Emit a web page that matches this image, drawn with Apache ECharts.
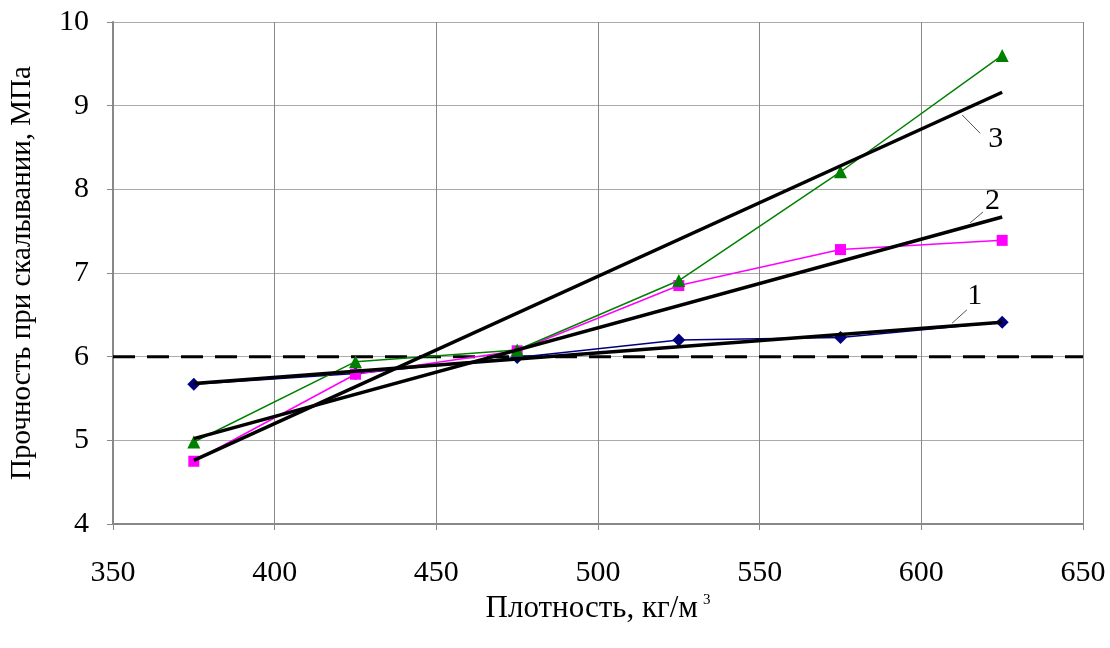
<!DOCTYPE html>
<html>
<head>
<meta charset="utf-8">
<script src="https://cdn.jsdelivr.net/npm/echarts@6/dist/echarts.min.js"></script>
<style>
html, body { margin: 0; padding: 0; background: #fff; }
#main { width: 1110px; height: 648px; }
</style>
</head>
<body>
<div id="main"></div>
<script>
var densities = [375, 425, 475, 525, 575, 625];
var strength1 = [5.67, 5.80, 5.99, 6.20, 6.23, 6.41];
var strength2 = [4.75, 5.79, 6.07, 6.85, 7.28, 7.39];
var strength3 = [4.98, 5.94, 6.08, 6.91, 8.21, 9.60];
var trendX = [375, 625];
var trend1 = [5.68, 6.41];
var trend2 = [5.02, 7.67];
var trend3 = [4.76, 9.16];
var limitValue = 6;
var xTicks = [350, 400, 450, 500, 550, 600, 650];
var yTicks = [4, 5, 6, 7, 8, 9, 10];
// curve labels: [text, leader start, leader end, text position]
var curveLabels = [
    ['1', [609.5, 6.40], [614.1, 6.56], [616.5, 6.72]],
    ['2', [615.1, 7.60], [619.1, 7.73], [622.0, 7.86]],
    ['3', [612.6, 8.89], [618.2, 8.67], [623.0, 8.60]]
];

function pairs(xs, ys)
{
    return xs.map(function(x, i) { return [x, ys[i]]; });
}

var fontFamily = '"Liberation Serif", "DejaVu Serif", serif';
var labelStyle = {color: '#000', fontSize: 30, fontFamily: fontFamily};

var chart = echarts.init(document.getElementById('main'));

var dataSeries = [
    {data: strength1, color: '#000080', symbol: 'diamond', size: 13},
    {data: strength2, color: '#ff00ff', symbol: 'rect', size: 11},
    {data: strength3, color: '#008000', symbol: 'triangle', size: 13}
].map(function(s)
{
    return {
        type: 'line',
        data: pairs(densities, s.data),
        symbol: s.symbol,
        symbolSize: s.size,
        showAllSymbol: true,
        itemStyle: {color: s.color},
        lineStyle: {color: s.color, width: 1.5},
        z: 3,
        animation: false
    };
});

var trendSeries = [trend1, trend2, trend3].map(function(t)
{
    return {
        type: 'line',
        data: pairs(trendX, t),
        symbol: 'none',
        lineStyle: {color: '#000', width: 3.5},
        z: 4,
        animation: false
    };
});

var leaderSeries = {
    type: 'line',
    data: [],
    symbol: 'none',
    animation: false,
    markLine: {
        silent: true,
        symbol: 'none',
        label: {show: false},
        lineStyle: {color: '#555', width: 1, type: 'solid'},
        data: curveLabels.map(function(c)
        {
            return [{coord: c[1]}, {coord: c[2]}];
        })
    },
    markPoint: {
        silent: true,
        symbol: 'circle',
        symbolSize: 1,
        itemStyle: {color: 'rgba(0,0,0,0)'},
        label: {show: true, position: 'inside', color: '#000', fontSize: 30, fontFamily: fontFamily},
        data: curveLabels.map(function(c)
        {
            return {coord: c[3], value: c[0]};
        })
    }
};

var limitSeries = {
    type: 'line',
    data: pairs([xTicks[0], xTicks[xTicks.length - 1]], [limitValue, limitValue]),
    symbol: 'none',
    lineStyle: {color: '#000', width: 3, type: [22, 12]},
    z: 2,
    animation: false
};

var option = {
    backgroundColor: '#fff',
    grid: {left: 113, right: 27, top: 22, bottom: 124},
    xAxis: {
        type: 'value',
        min: xTicks[0],
        max: xTicks[xTicks.length - 1],
        interval: 50,
        name: '{a|Плотность, кг/м}{s|3}',
        nameLocation: 'middle',
        nameGap: 66,
        nameTextStyle: {
            rich: {
                a: {fontSize: 31, fontFamily: fontFamily, color: '#000'},
                s: {fontSize: 15, fontFamily: fontFamily, color: '#000', verticalAlign: 'top', padding: [0, 0, 16, 5]}
            }
        },
        axisLine: {show: true, lineStyle: {color: '#888', width: 2}},
        axisTick: {show: true, inside: false, length: 6, lineStyle: {color: '#888'}},
        axisLabel: Object.assign({margin: 34}, labelStyle),
        splitLine: {show: true, lineStyle: {color: '#888', width: 1}}
    },
    yAxis: {
        type: 'value',
        min: yTicks[0],
        max: yTicks[yTicks.length - 1],
        interval: 1,
        name: 'Прочность при скалывании, МПа',
        nameLocation: 'middle',
        nameGap: 76,
        nameTextStyle: {fontSize: 29, fontFamily: fontFamily, color: '#000'},
        axisLine: {show: true, lineStyle: {color: '#888', width: 2}},
        axisTick: {show: true, inside: false, length: 6, lineStyle: {color: '#888'}},
        axisLabel: Object.assign({margin: 24}, labelStyle),
        splitLine: {show: true, lineStyle: {color: '#aaa', width: 1}}
    },
    series: [limitSeries].concat(dataSeries, trendSeries, [leaderSeries])
};
chart.setOption(option);
</script>
</body>
</html>
